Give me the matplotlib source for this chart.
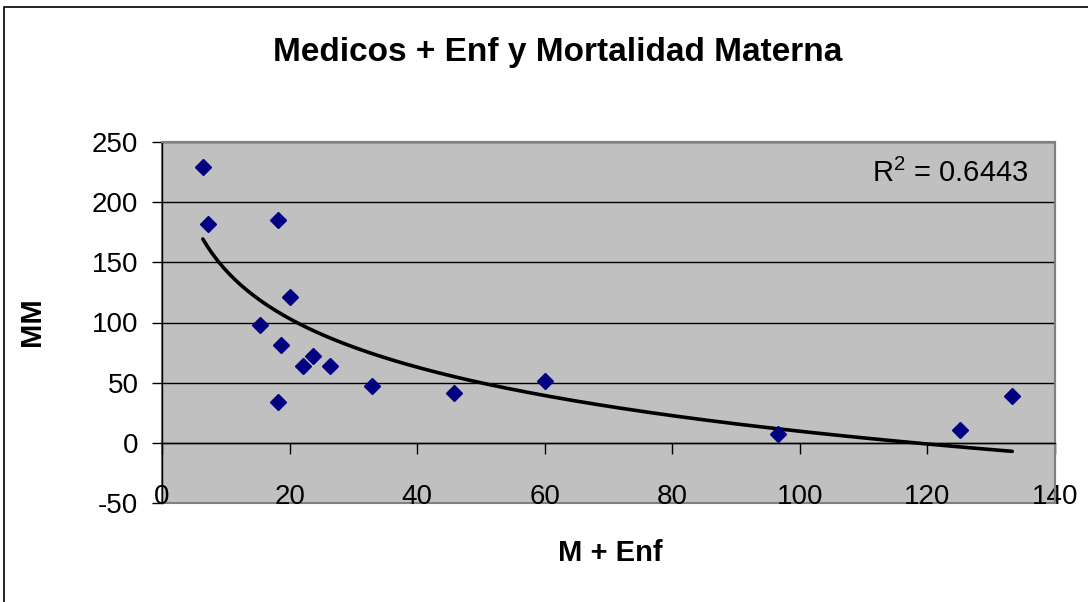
import numpy as np
import matplotlib
matplotlib.use("Agg")
import matplotlib.pyplot as plt
from matplotlib.patches import Rectangle

# Data
m_enf = [6.4, 7.2, 18.2, 20.0, 15.4, 18.6, 23.6, 22.1, 26.4, 18.2, 32.9, 45.7, 60.0, 96.5, 125.1, 133.3]
mm = [229, 182, 185, 121, 98, 81, 72, 64, 64, 34, 47, 41, 51, 7, 11, 39]
x_ticks = [0, 20, 40, 60, 80, 100, 120, 140]
y_ticks = [-50, 0, 50, 100, 150, 200, 250]
title = "Medicos + Enf y Mortalidad Materna"
r2_label = "R$^2$ = 0.6443"

plt.rcParams['font.family'] = ['Liberation Sans', 'DejaVu Sans']
plt.rcParams['axes.unicode_minus'] = False
plt.rcParams['mathtext.fontset'] = 'custom'
plt.rcParams['mathtext.rm'] = 'Liberation Sans'

W, H = 1088, 602
fig = plt.figure(figsize=(W / 100, H / 100), dpi=100)
fig.patch.set_facecolor('white')

# chart area border (only top and left visible)
fig.patches.append(Rectangle((4 / W, -0.1), 1.2, 1 - 7 / H + 0.1, transform=fig.transFigure,
                             fill=False, edgecolor='black', lw=1.2))

left, right, top, bottom = 162 / W, 1055 / W, 142 / H, 503 / H
ax = fig.add_axes([left, 1 - bottom, right - left, bottom - top])
ax.set_facecolor('#C0C0C0')
ax.set_xlim(0, 140)
ax.set_ylim(-50, 250)

# grid lines
for yv in y_ticks:
    if yv not in (-50,):
        ax.axhline(yv, color='black', lw=1.0, zorder=1)

# trendline (logarithmic fit)
xs = np.array(m_enf, dtype=float)
ys = np.array(mm, dtype=float)
a, b = np.polyfit(np.log(xs), ys, 1)
xf = np.linspace(xs.min(), xs.max(), 200)
ax.plot(xf, a * np.log(xf) + b, color='black', lw=2.6, zorder=3, solid_capstyle='round')

ax.plot(xs, ys, linestyle='none', marker='D', markersize=8.5, color='#000080', zorder=4)

# spines
for s in ['top', 'right']:
    ax.spines[s].set_color('#808080')
    ax.spines[s].set_linewidth(1.5)
ax.spines['left'].set_color('black')
ax.spines['left'].set_linewidth(1.0)
ax.spines['bottom'].set_position(('data', 0))
ax.spines['bottom'].set_color('black')
ax.spines['bottom'].set_linewidth(1.0)
ax.add_patch(Rectangle((0, 0), 1, 1, transform=ax.transAxes, fill=False,
                       edgecolor='#808080', lw=1.5, zorder=0, clip_on=False))

ax.set_xticks(x_ticks)
ax.set_yticks(y_ticks)
ax.tick_params(axis='x', direction='out', length=8, width=1, color='black',
               labelsize=20, pad=22)
ax.tick_params(axis='y', direction='out', length=7, width=1, color='black',
               labelsize=20, pad=10)

fig.text(558 / W, 1 - 52 / H, title, ha='center', va='center',
         fontsize=24, fontweight='bold')
fig.text(610 / W, 1 - 553 / H, "M + Enf", ha='center', va='center',
         fontsize=21, fontweight='bold')
fig.text(32 / W, 1 - 322 / H, "MM", ha='center', va='center',
         fontsize=21, fontweight='bold', rotation=90)
fig.text(1028 / W, 1 - 173 / H, r2_label, ha='right', va='center', fontsize=21)

fig.savefig('out.png', dpi=100)
